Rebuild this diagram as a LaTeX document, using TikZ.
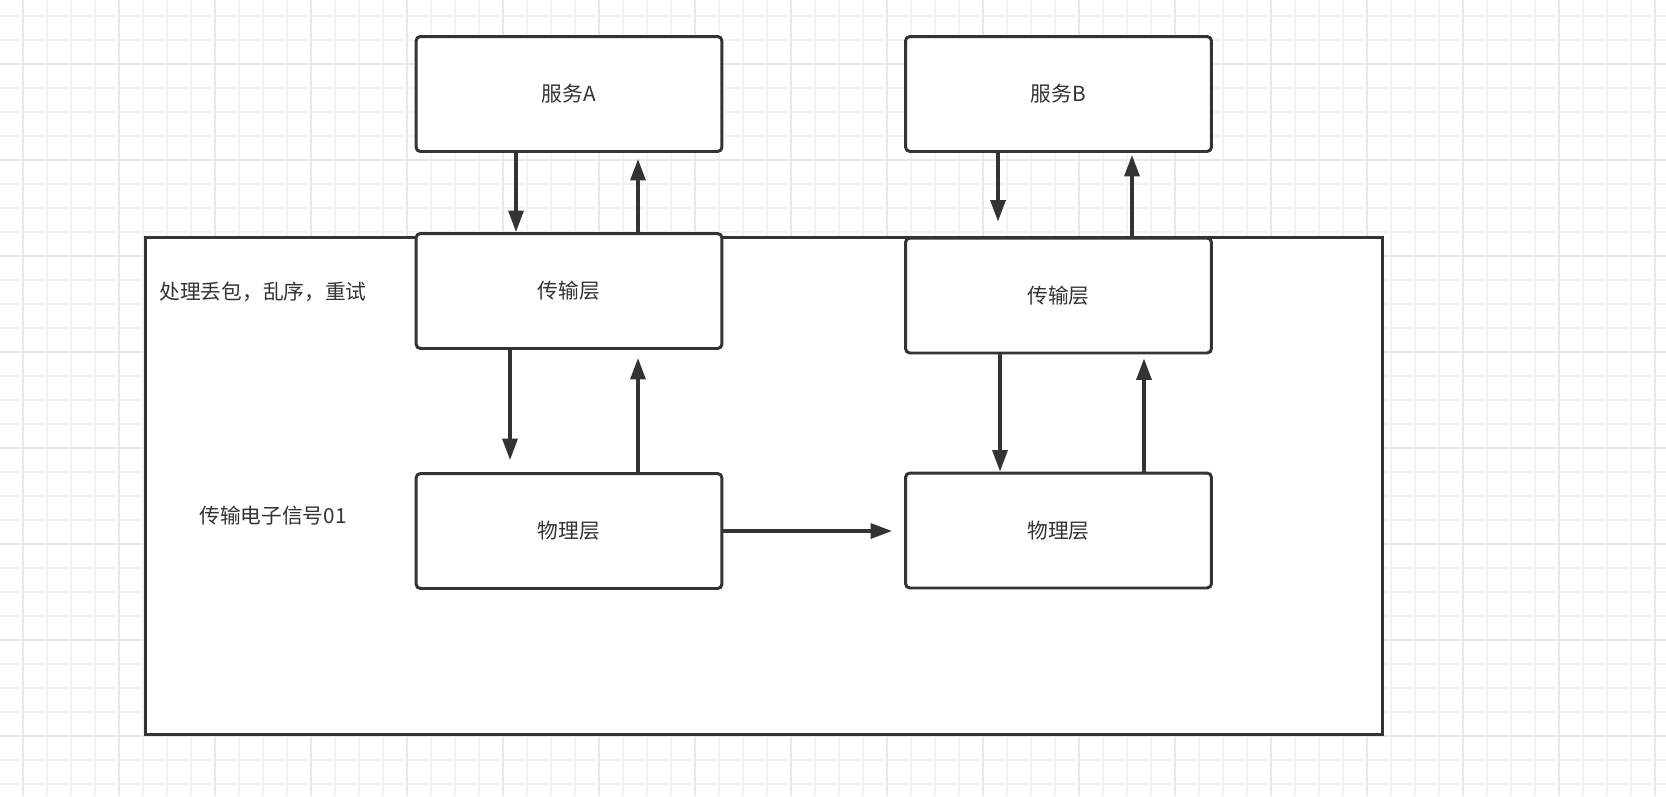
\documentclass[tikz,border=0pt]{standalone}
\usepackage{fontspec}
\setmainfont{Noto Sans CJK SC}
\usetikzlibrary{arrows.meta}
\definecolor{ink}{HTML}{333333}
\definecolor{gridminor}{HTML}{F3F3F3}
\definecolor{gridmajor}{HTML}{E8E8E8}
\newcommand{\lblfont}{\fontsize{11.8pt}{13.5pt}\selectfont}
\begin{document}
\begin{tikzpicture}[x=0.02cm,y=-0.02cm,
  box/.style={draw=ink, line width=1.7pt, fill=white, rounded corners=2.5pt,
    minimum width=6.12cm, minimum height=2.3cm, text=ink, font=\lblfont, inner sep=0pt},
  arr/.style={draw=ink, line width=1.9pt, -{Triangle[length=0.43cm,width=0.3cm]}},
  lbl/.style={text=ink, font=\lblfont, inner sep=0pt},
  frame/.style={draw=ink, line width=1.7pt, fill=white},
  minorline/.style={draw=gridminor, line width=0.9pt},
  majorline/.style={draw=gridmajor, line width=0.9pt}]
\useasboundingbox (0,0) rectangle (1666,796);
\fill[white] (0,0) rectangle (1666,796);
% grid
\foreach \i in {0,...,68} { \draw[minorline] ({23+24*\i},0) -- ({23+24*\i},796); }
\foreach \j in {0,...,32} { \draw[minorline] (0,{16+24*\j}) -- (1666,{16+24*\j}); }
\foreach \i in {0,...,17} { \draw[majorline] ({23+96*\i},0) -- ({23+96*\i},796); }
\foreach \j in {0,...,7} { \draw[majorline] (0,{64+96*\j}) -- (1666,{64+96*\j}); }
% outer frame
\node[frame, minimum width=24.75cm, minimum height=9.95cm, inner sep=0pt] (fr) at (764.25,486.25) {};
% boxes
\node[box] (sa) at (569,94) {服务A};
\node[box] (sb) at (1058.5,94) {服务B};
\node[box] (ta) at (569,291) {传输层};
\node[box] (tb) at (1058.5,295.5) {传输层};
\node[box] (pa) at (569,531) {物理层};
\node[box] (pb) at (1058.5,530.5) {物理层};
% labels
\node[lbl, anchor=west] (l1) at (159,292) {处理丢包，乱序，重试};
\node[lbl] (l2) at (273,516) {传输电子信号01};
% arrows A
\draw[arr] ([xshift=-1.06cm]sa.south) -- ([xshift=-1.06cm]ta.north);
\draw[arr, shorten >=0.12cm] ([xshift=1.38cm]ta.north) -- ([xshift=1.38cm]sa.south);
\draw[arr, shorten >=0.24cm] ([xshift=-1.18cm]ta.south) -- ([xshift=-1.18cm]pa.north);
\draw[arr, shorten >=0.16cm] ([xshift=1.38cm]pa.north) -- ([xshift=1.38cm]ta.south);
% arrows B
\draw[arr, shorten >=0.3cm] ([xshift=-1.21cm]sb.south) -- ([xshift=-1.21cm]tb.north);
\draw[arr, shorten >=0.04cm] ([xshift=1.47cm]tb.north) -- ([xshift=1.47cm]sb.south);
\draw[arr] ([xshift=-1.17cm]tb.south) -- ([xshift=-1.17cm]pb.north);
\draw[arr, shorten >=0.08cm] ([xshift=1.71cm]pb.north) -- ([xshift=1.71cm]tb.south);
% physical link
\draw[arr, shorten >=0.24cm] (pa.east) -- (pa.east -| pb.west);
\end{tikzpicture}
\end{document}
